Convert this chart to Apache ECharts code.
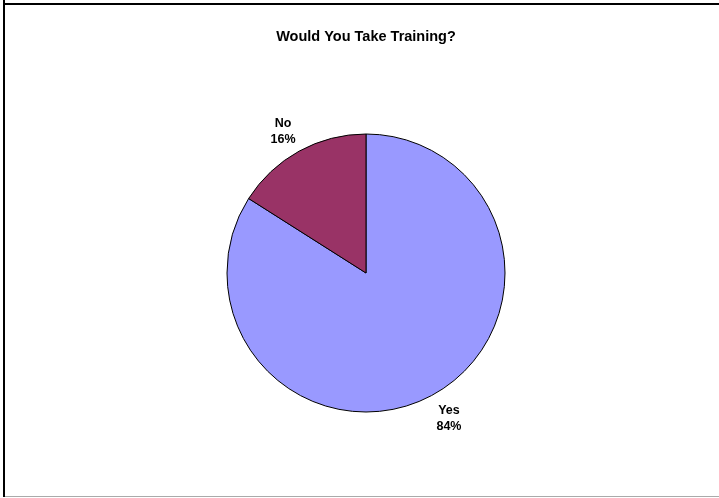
<!DOCTYPE html>
<html>
<head>
<meta charset="utf-8">
<script src="https://cdn.jsdelivr.net/npm/echarts@6/dist/echarts.min.js"></script>
<style>
html, body { margin: 0; padding: 0; background: #fff; }
#chart { width: 719px; height: 498px; }
</style>
</head>
<body>
<div id="chart"></div>
<script>
var categories = ['Yes', 'No'];
var shares = [84, 16];
var sliceColors = ['#9999FF', '#993366'];

var pieData = [];
categories.forEach(function(name, i){
	pieData.push({ name: name, value: shares[i], itemStyle: { color: sliceColors[i] } });
});

var myChart = echarts.init(document.getElementById('chart'));
var option = {
	animation: false,
	backgroundColor: '#fff',
	title: {
		text: 'Would You Take Training?',
		left: 361,
		textAlign: 'center',
		top: 24,
		textStyle: { fontFamily: 'Liberation Sans', fontSize: 14.5, fontWeight: 'bold', color: '#000' }
	},
	graphic: [
		{ type: 'line', shape: { x1: 4, y1: 0, x2: 4, y2: 497 }, style: { stroke: '#000', lineWidth: 2 } },
		{ type: 'line', shape: { x1: 3, y1: 4, x2: 719, y2: 4 }, style: { stroke: '#000', lineWidth: 2 } },
		{ type: 'line', shape: { x1: 5, y1: 496.5, x2: 719, y2: 496.5 }, style: { stroke: '#aaa', lineWidth: 1 } }
	],
	series: [{
		type: 'pie',
		center: [366, 273],
		radius: 139,
		startAngle: 90,
		clockwise: true,
		silent: true,
		emphasis: { disabled: true },
		itemStyle: { borderColor: '#000', borderWidth: 1 },
		label: {
			show: true,
			position: 'outside',
			formatter: '{b}\n{d}%',
			fontFamily: 'Liberation Sans',
			fontSize: 12.5,
			fontWeight: 'bold',
			color: '#000',
			lineHeight: 16,
			distanceToLabelLine: 0
		},
		labelLine: { show: false, length: 27, length2: 3 },
		// the upper label sits a little lower in the original
		labelLayout: function(params){
			return { align: 'center', dy: params.dataIndex === 1 ? 4 : 0 };
		},
		data: pieData
	}]
};
myChart.setOption(option);
</script>
</body>
</html>
